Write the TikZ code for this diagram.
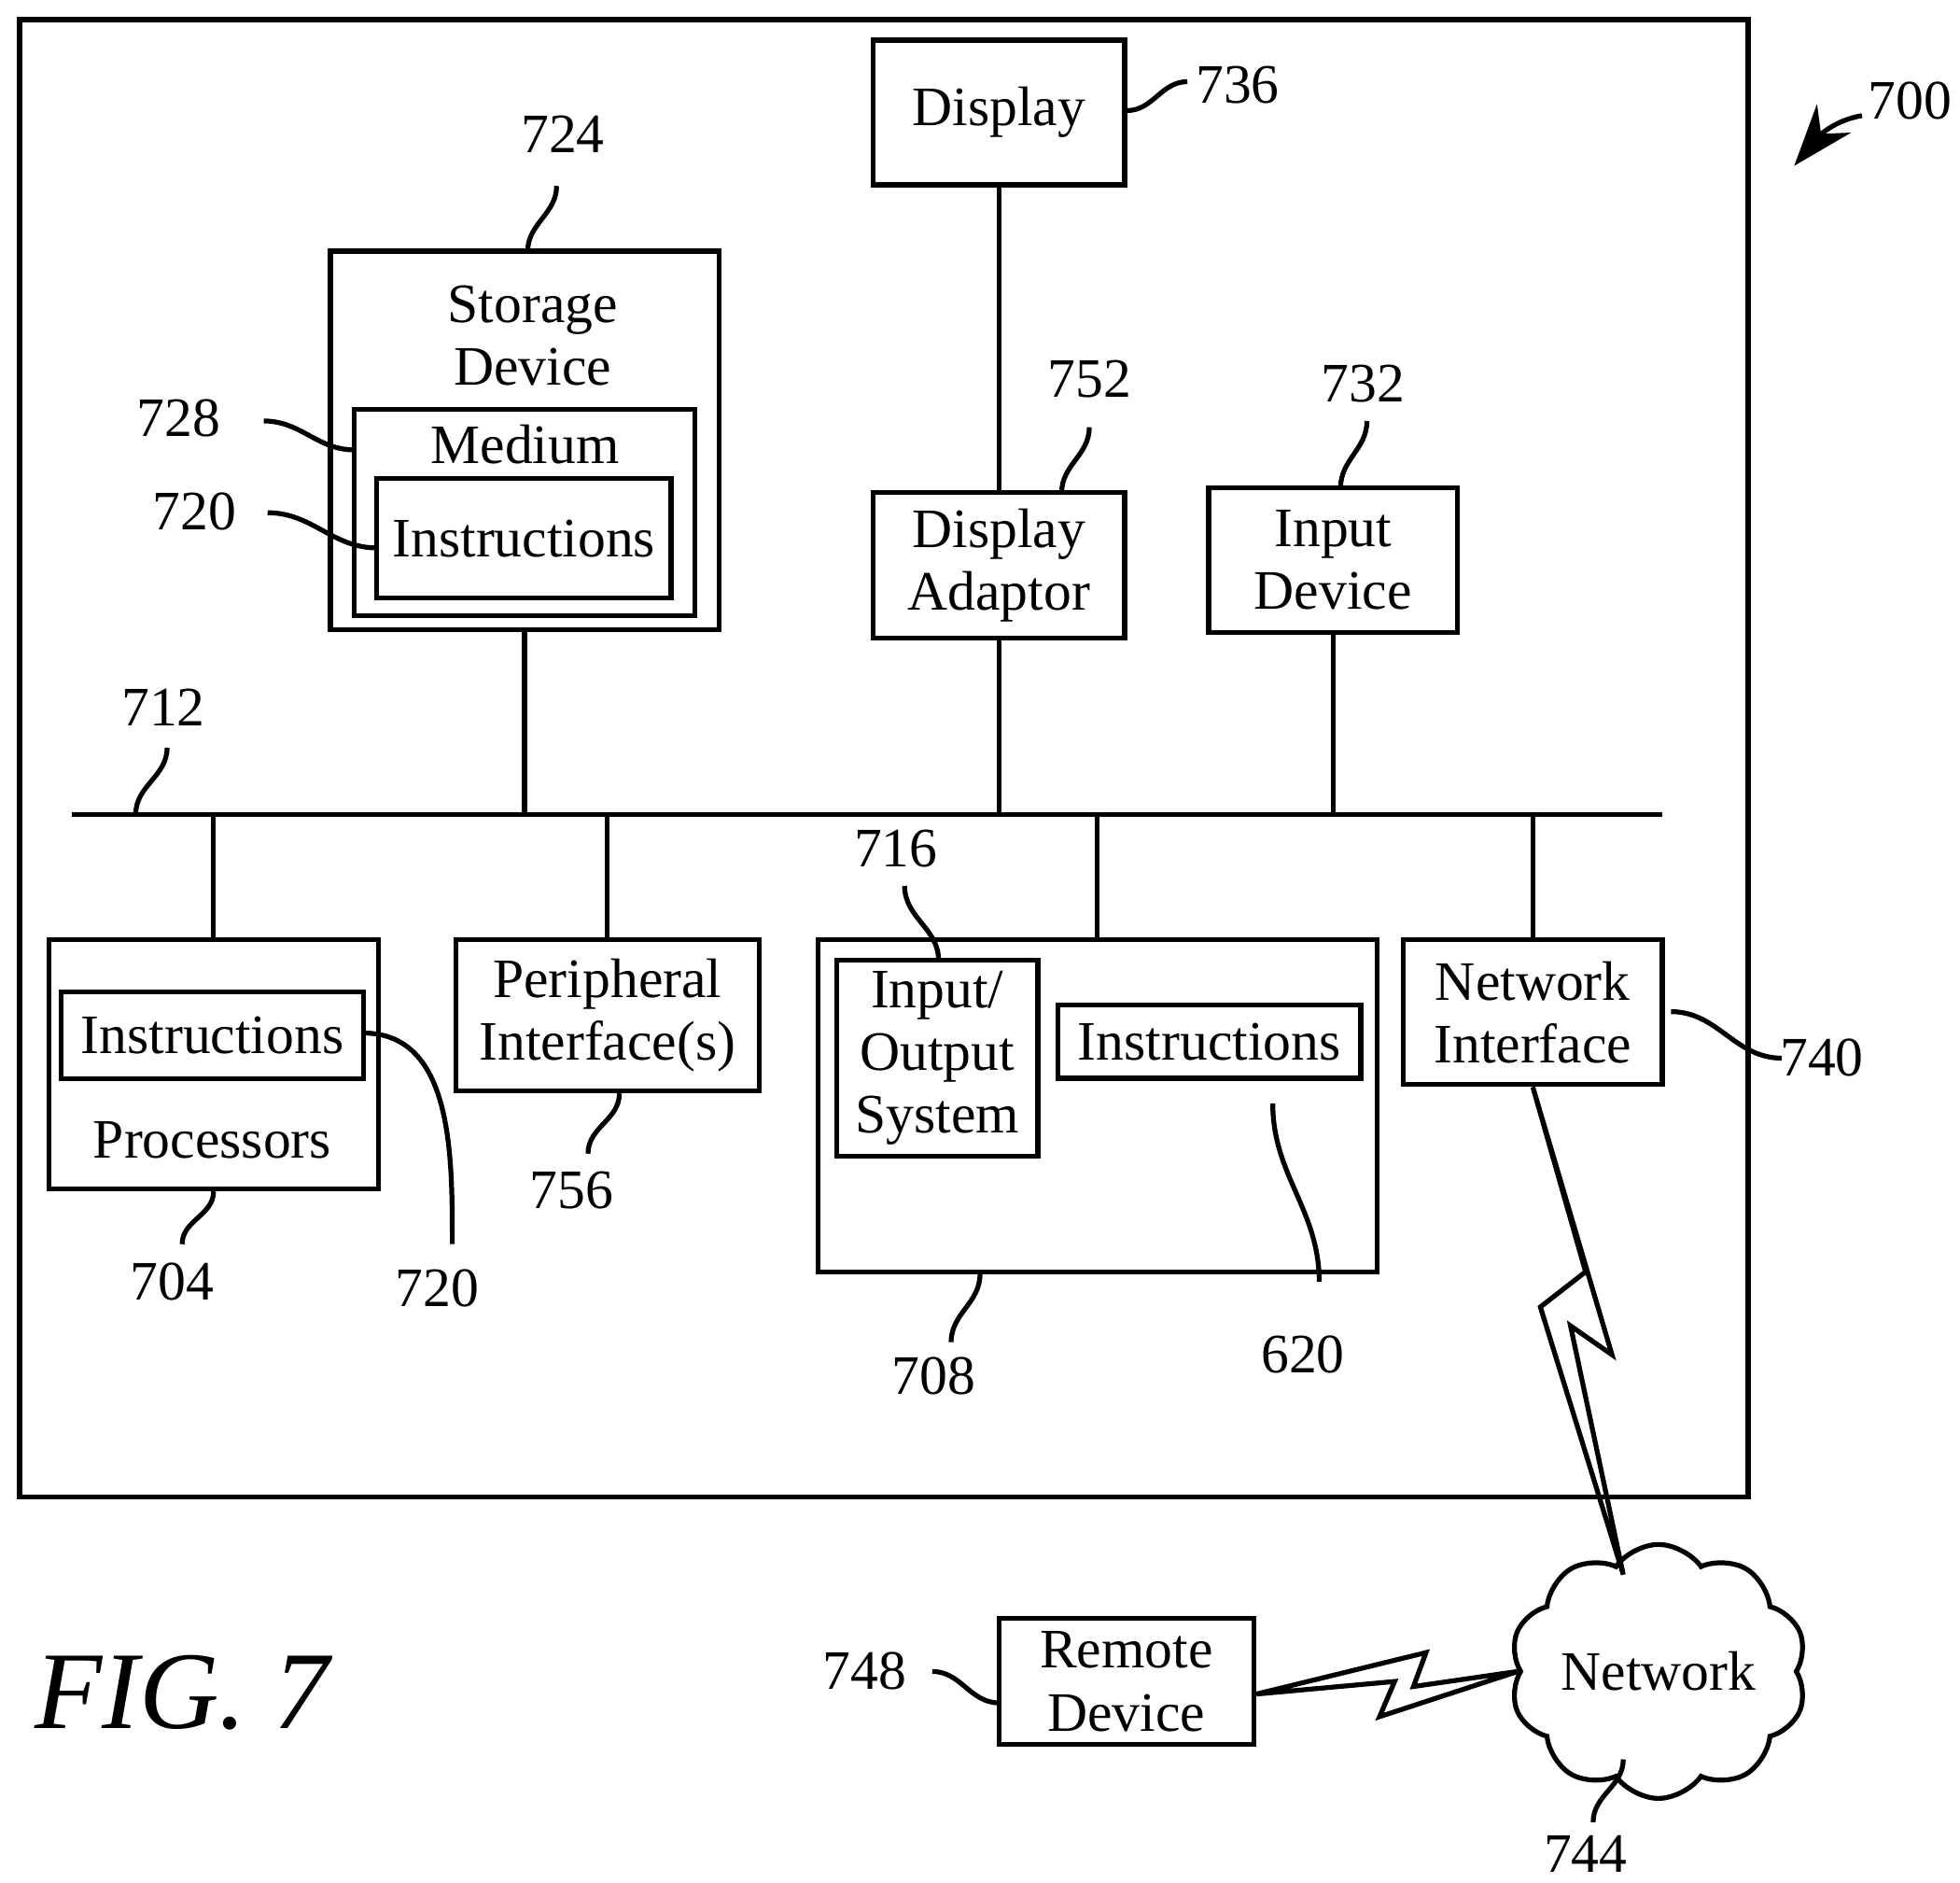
\documentclass[tikz,border=0pt]{standalone}
\usepackage{fontspec}
\setmainfont{Liberation Serif}
\usetikzlibrary{shapes.symbols,arrows.meta}
\begin{document}
\begin{tikzpicture}[x=0.01cm,y=-0.01cm,line width=1.1pt,
  every node/.style={font=\fontsize{12.6}{14.2}\selectfont},
  box/.style={draw,inner sep=0pt,align=center}]
\useasboundingbox (0,0) rectangle (1560,1498);
\node[box,minimum width=13.75cm,minimum height=11.75cm] (outer) at (703.5,603.5) {};
\node[box,minimum width=2cm,minimum height=1.15cm] (disp) at (795,89.5) {Display};
\node[box,minimum width=3.09cm,minimum height=3.01cm] (stor) at (417.5,350.5) {};
\node[align=center] (stxt) at (424,267) {Storage\\Device};
\node[box,minimum width=2.71cm,minimum height=1.64cm] (med) at (417.5,408) {};
\node (mtxt) at (418,354) {Medium};
\node[box,minimum width=2.34cm,minimum height=0.95cm] (sinst) at (417,428.5) {Instructions};
\node[box,minimum width=2cm,minimum height=1.16cm] (adapt) at (795,450) {Display\\Adaptor};
\node[box,minimum width=1.98cm,minimum height=1.15cm] (inp) at (1061,445.5) {Input\\Device};
\node[box,minimum width=2.62cm,minimum height=1.98cm] (proc) at (170,847) {};
\node[box,minimum width=2.4cm,minimum height=0.69cm] (pinst) at (169,824) {Instructions};
\node (ptxt) at (169,907) {Processors};
\node[box,minimum width=2.41cm,minimum height=1.2cm] (peri) at (483.5,808) {Peripheral\\Interface(s)};
\node[box,minimum width=4.45cm,minimum height=2.64cm] (mem) at (873.5,880) {};
\node[box,minimum width=1.6cm,minimum height=1.56cm] (io) at (746,842) {Input/\\Output\\System};
\node[box,minimum width=2.41cm,minimum height=0.58cm] (minst) at (962.5,829) {Instructions};
\node[box,minimum width=2.06cm,minimum height=1.15cm] (net) at (1220,805.5) {Network\\Interface};
\node[box,minimum width=2.03cm,minimum height=1cm] (rem) at (896.5,1338) {Remote\\Device};
\node[cloud,draw,cloud puffs=10,cloud puff arc=110,aspect=1.25,minimum width=1.95cm,minimum height=1.5cm,inner sep=0pt] (cloud) at (1320,1330) {Network};
\coordinate (busL) at (57,648); \coordinate (busR) at (1323,648);
\draw (busL) -- (busR);
\draw (stor.south) -- (stor.south |- busL);
\draw (disp.south) -- (adapt.north);
\draw (adapt.south) -- (adapt.south |- busL);
\draw (inp.south) -- (inp.south |- busL);
\draw (proc.north) -- (proc.north |- busL);
\draw (peri.north) -- (peri.north |- busL);
\draw (mem.north) -- (mem.north |- busL);
\draw (net.north) -- (net.north |- busL);
\draw[line join=miter] (net.south) -- (1283,1078) -- (1250,1055) -- (1292,1253) -- (1226,1040) -- (1262,1012) -- cycle;
\draw[line join=miter] (rem.east) ++(0,10) coordinate (r1) -- (1135,1315) -- (1125,1342) -- (cloud.west) -- (1098,1366) -- (1110,1338) -- (r1);
\node (l736) at (985,68) {736};
\draw (disp.east |- 0,88) to[out=0,in=180] (945,65);
\node (l700) at (1520,80) {700};
\draw[-{Stealth[length=14pt,width=10pt]}] (1482,92) to[out=190,in=50] (1428,132);
\node (l724) at (448,107) {724};
\draw (420,200) to[out=90,in=-90] (443,148);
\node (l728) at (142,333) {728};
\draw (210,335) to[out=0,in=180] (282,358);
\node (l720a) at (155,407) {720};
\draw (213,408) to[out=0,in=180] (300,436);
\node (l752) at (867,302) {752};
\draw (845,392) to[out=90,in=-90] (867,340);
\node (l732) at (1085,305) {732};
\draw (1067,388) to[out=90,in=-90] (1088,335);
\node (l712) at (130,563) {712};
\draw (108,648) to[out=90,in=-90] (133,595);
\node (l704) at (137,1020) {704};
\draw (170,948) to[out=-90,in=90] (145,990);
\node (l720b) at (348,1025) {720};
\draw (289,822) to[out=0,in=90] (360,990);
\node (l756) at (455,947) {756};
\draw (493,870) to[out=-90,in=90] (468,918);
\node (l716) at (713,675) {716};
\draw (720,705) to[out=-90,in=90] (747,764);
\node (l620) at (1037,1078) {620};
\draw (1013,878) to[out=-90,in=90] (1050,1020);
\node (l708) at (743,1095) {708};
\draw (780,1014) to[out=-90,in=90] (757,1068);
\node (l740) at (1450,842) {740};
\draw (1330,805) to[out=0,in=180] (1418,842);
\node (l744) at (1262,1475) {744};
\draw (1292,1400) to[out=-90,in=90] (1268,1450);
\node (l748) at (688,1330) {748};
\draw (742,1330) to[out=0,in=180] (795,1355);
\node[font=\fontsize{25}{28}\selectfont\itshape] (fig) at (145,1347) {FIG. 7};
\end{tikzpicture}
\end{document}
